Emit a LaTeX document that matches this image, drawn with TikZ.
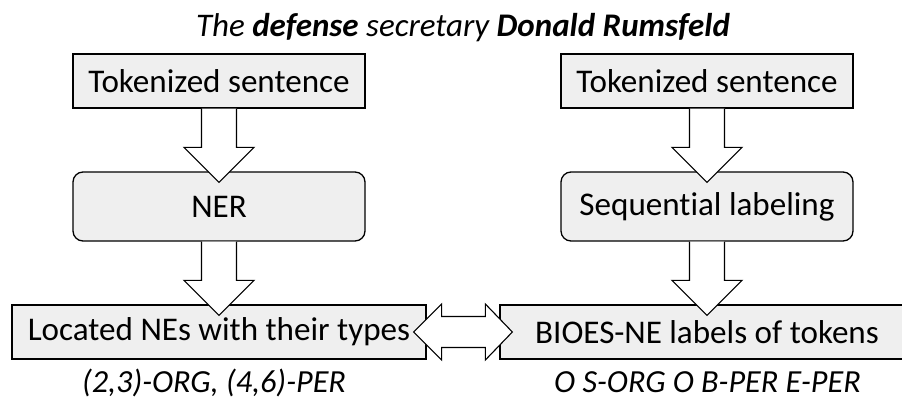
\documentclass[tikz,border=0pt]{standalone}
\usepackage{fontspec}
\setmainfont[Ligatures=NoCommon]{Carlito}
\usetikzlibrary{calc}
\definecolor{boxfill}{HTML}{EFEFEF}
\tikzset{
  x=1pt, y=-1pt,
  box/.style={draw=black, line width=1.3pt, fill=boxfill, inner sep=0pt,
    font=\fontsize{33.1}{40}\selectfont},
  stagebox/.style={box, rounded corners=10pt},
  blockarrow/.style={draw=black, line width=1.1pt, fill=white, line join=miter},
  caption/.style={font=\fontsize{32.2}{38}\selectfont\itshape, inner sep=0pt},
}
\begin{document}
\begin{tikzpicture}
\useasboundingbox (0,0) rectangle (902,401);
% title
\node[caption, font=\fontsize{33}{40}\selectfont\itshape, anchor=base] (title) at (463,37)
  {The \textbf{defense} secretary \textbf{Donald Rumsfeld}};
% left pipeline
\node[box, minimum width=292pt, minimum height=54pt] (tokL) at (219,81) {Tokenized sentence};
\node[stagebox, minimum width=292pt, minimum height=69pt] (ner) at (219,206.5) {NER};
\node[box, minimum width=414pt, minimum height=54pt] (outL) at (219,332) {Located NEs with their types};
\node[caption, anchor=base] (capL) at (214,392.5) {(2,3)-ORG, (4,6)-PER};
% right pipeline
\node[box, minimum width=292pt, minimum height=54pt] (tokR) at (707,81) {Tokenized sentence};
\node[stagebox, minimum width=292pt, minimum height=69pt] (seq) at (707,206.5) {Sequential labeling};
\node[box, minimum width=414pt, minimum height=54pt] (outR) at (707,332) {BIOES-NE labels of tokens};
\node[caption, anchor=base] (capR) at (707.5,392.5) {O S-ORG O B-PER E-PER};
% downward block arrows between stages
\newcommand{\downblock}[2]{%
  \path[blockarrow] let \p1=(#1.south), \p2=(#2.north) in
    (\x1-17.5pt,\y1) -- (\x1-17.5pt,\y2+24pt) -- (\x1-35pt,\y2+24pt)
    -- (\x1,\y2-11pt) -- (\x1+35pt,\y2+24pt) -- (\x1+17.5pt,\y2+24pt)
    -- (\x1+17.5pt,\y1);}
\downblock{tokL}{ner}
\downblock{ner}{outL}
\downblock{tokR}{seq}
\downblock{seq}{outR}
% double block arrow between the two outputs
\path[blockarrow] let \p1=(outL.east), \p2=(outR.west) in
  (\x1-13pt,\y1) -- (\x1+15pt,\y1+28pt) -- (\x1+15pt,\y1+15.5pt)
  -- (\x2-14pt,\y1+15.5pt) -- (\x2-14pt,\y1+28pt) -- (\x2+13pt,\y1)
  -- (\x2-14pt,\y1-28pt) -- (\x2-14pt,\y1-15.5pt) -- (\x1+15pt,\y1-15.5pt)
  -- (\x1+15pt,\y1-28pt) -- cycle;
\end{tikzpicture}
\end{document}
